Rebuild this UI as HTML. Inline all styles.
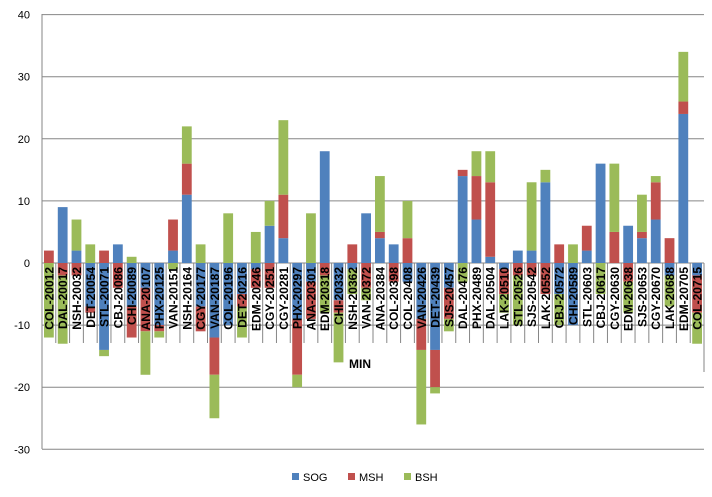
<!DOCTYPE html>
<html><head><meta charset="utf-8"><style>
body{margin:0;background:#fff}
svg{display:block;font-family:"Liberation Sans",Arial,sans-serif}
</style></head><body>
<svg id="c" width="712" height="497" xmlns="http://www.w3.org/2000/svg"></svg>
<script>
const d=[
["COL-20012",[0,2,0],[0,0,-12]],["DAL-20017",[9,0,0],[0,-2,-11]],["NSH-20032",[2,0,5],[0,-2,0]],["DET-20054",[0,0,3],[-7,-1,0]],
["STL-20071",[0,2,0],[-14,0,-1]],["CBJ-20086",[3,0,0],[0,-4,0]],["CHI-20089",[0,0,1],[-7,-5,0]],["ANA-20107",[0,0,0],[-4,-7,-7]],
["PHX-20125",[0,0,0],[-10,-1,-1]],["VAN-20151",[2,5,0],[0,0,-1]],["NSH-20164",[11,5,6],[0,0,0]],["CGY-20177",[0,0,3],[-7,-4,0]],
["VAN-20187",[0,0,0],[-12,-6,-7]],["COL-20196",[0,0,8],[-10,0,0]],["DET-20216",[0,0,0],[-5,-2,-5]],["EDM-20246",[0,0,5],[-1,-3,0]],
["CGY-20251",[6,0,4],[0,-4,0]],["CGY-20281",[4,7,12],[0,0,0]],["PHX-20297",[0,0,0],[-9,-9,-2]],["ANA-20301",[0,0,8],[-3,-6,0]],
["EDM-20318",[18,0,0],[0,-2,-6]],["CHI-20332",[0,0,0],[-6,-2,-8]],["NSH-20362",[0,3,0],[-1,0,-4]],["VAN-20372",[8,0,0],[0,-4,-2]],
["ANA-20384",[4,1,9],[0,0,0]],["COL-20398",[3,0,0],[0,-3,0]],["COL-20408",[0,4,6],[-3,0,0]],["VAN-20426",[0,0,0],[-9,-5,-12]],
["DET-20439",[0,0,0],[-14,-6,-1]],["SJS-20457",[0,0,0],[-4,-5,-2]],["DAL-20476",[14,1,0],[0,0,-3]],["PHX-20489",[7,7,4],[0,0,0]],
["DAL-20504",[1,12,5],[0,0,0]],["LAK-20510",[0,0,0],[-1,-4,-3]],["STL-20526",[2,0,0],[0,-2,-8]],["SJS-20542",[2,0,11],[0,-2,0]],
["LAK-20552",[13,0,2],[0,-5,0]],["CBJ-20572",[0,3,0],[-5,0,-5]],["CHI-20589",[0,0,3],[-10,0,0]],["STL-20603",[2,4,0],[0,0,0]],
["CBJ-20617",[16,0,0],[0,0,-5]],["CGY-20630",[0,5,11],[0,0,0]],["EDM-20638",[6,0,0],[0,-3,-5]],["SJS-20653",[4,1,6],[0,0,0]],
["CGY-20670",[7,6,1],[0,0,0]],["LAK-20688",[0,4,0],[-2,0,-5]],["EDM-20705",[24,2,8],[0,0,0]],["COL-20715",[0,0,0],[-2,-6,-5]]];
const col=["#4f81bd","#c0504d","#9bbb59"];
const y0=263,k=6.21,L=42,R=704,w=(R-L)/48;
let s="";
for(let v=40;v>=-30;v-=10){const y=y0-v*k;s+=`<line x1="${L}" x2="${R}" y1="${y}" y2="${y}" stroke="#868686"/>`;
s+=`<text x="30" y="${y+4}" font-size="11" text-anchor="end">${v}</text>`;}
s+=`<line x1="${L}" x2="${L}" y1="14" y2="449" stroke="#868686"/>`;
d.forEach((r,i)=>{const x=L+i*w+2;let t=0;
 for(let j=0;j<3;j++){if(r[1][j]){s+=`<rect x="${x}" y="${y0-(t+r[1][j])*k}" width="${w-4}" height="${r[1][j]*k}" fill="${col[j]}"/>`;t+=r[1][j];}}
 t=0;for(let j=0;j<3;j++){if(r[2][j]){s+=`<rect x="${x}" y="${y0-t*k}" width="${w-4}" height="${-r[2][j]*k}" fill="${col[j]}"/>`;t+=r[2][j];}}
});
for(let i=0;i<=48;i++){const x=L+i*w;s+=`<line x1="${x}" x2="${x}" y1="${y0}" y2="${i==48?372:343}" stroke="#868686"/>`;}
d.forEach((r,i)=>{const cx=L+i*w+w/2+4.5;s+=`<text transform="translate(${cx},267) rotate(-90)" font-size="12" font-weight="bold" text-anchor="end">${r[0]}</text>`;});
s+=`<text x="360" y="368" font-size="12" font-weight="bold" text-anchor="middle">MIN</text>`;
[["SOG",292],["MSH",348],["BSH",404]].forEach((g,j)=>{s+=`<rect x="${g[1]}" y="473" width="7" height="7" fill="${col[j]}"/><text x="${g[1]+11}" y="481" font-size="11">${g[0]}</text>`;});
document.getElementById("c").innerHTML=s;
</script>
</body></html>
